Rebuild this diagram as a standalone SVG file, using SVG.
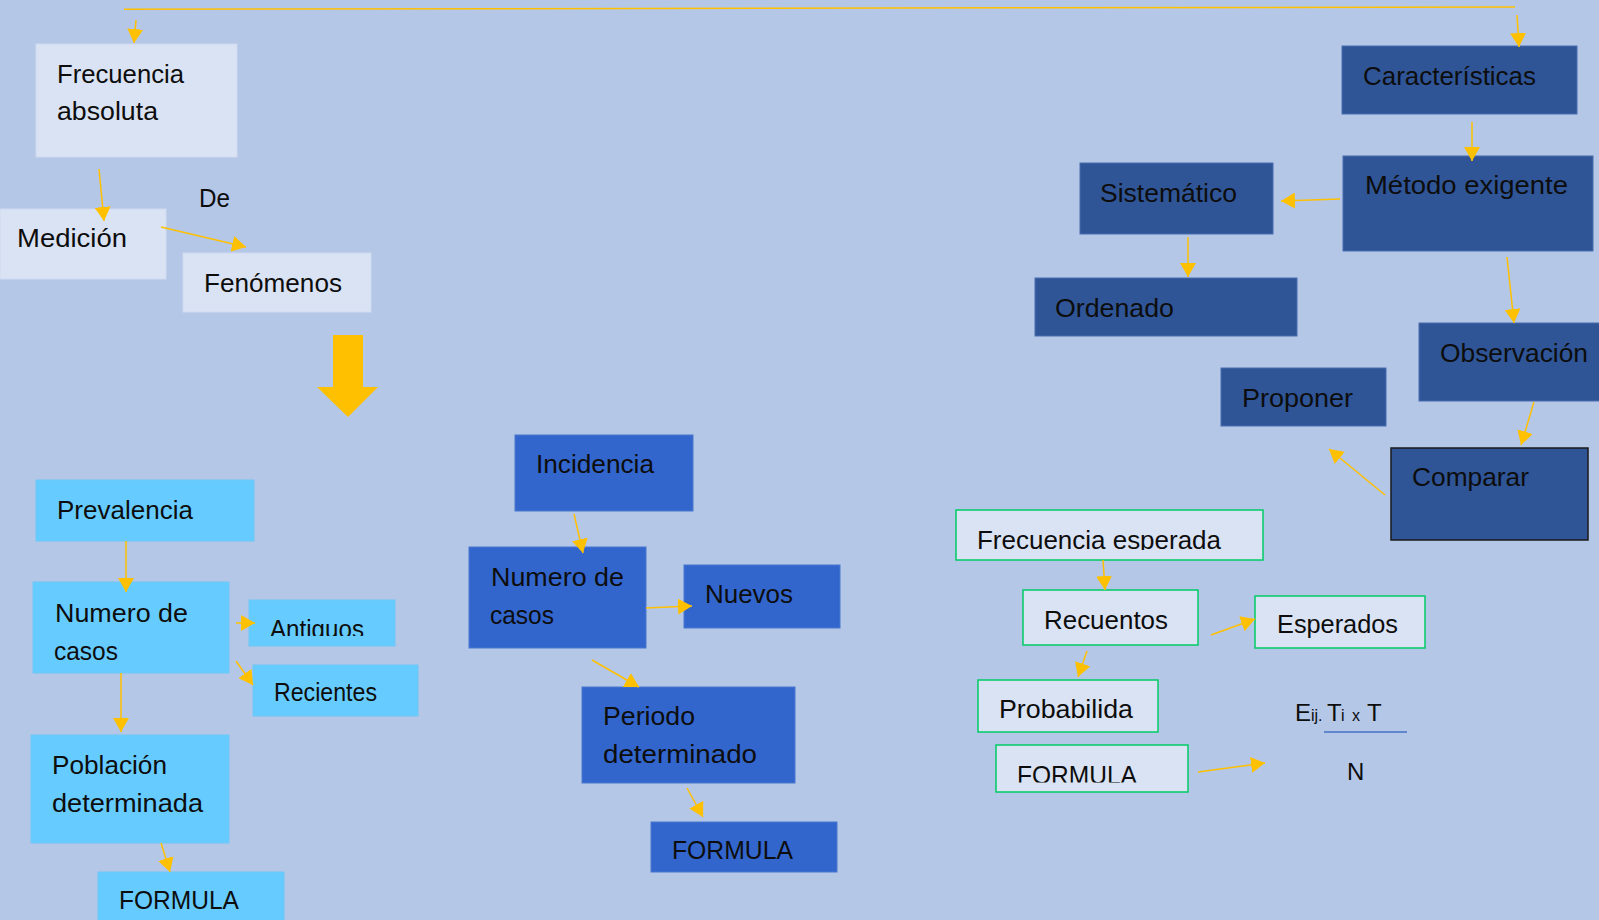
<svg xmlns="http://www.w3.org/2000/svg" width="1599" height="920" viewBox="0 0 1599 920">
<style>
.t{font-family:"Liberation Sans",Arial,sans-serif;font-size:26px;fill:#0d0d0d}
.s{font-family:"Liberation Sans",Arial,sans-serif;font-size:16px;fill:#0d0d0d}
.m{font-family:"Liberation Sans",Arial,sans-serif;font-size:24px;fill:#0d0d0d}
.lt{fill:#dae3f3;stroke:#cfdaef;stroke-width:1}
.cy{fill:#66ccff;stroke:#6fc8f5;stroke-width:1}
.md{fill:#3366cc;stroke:#4a78d0;stroke-width:1}
.dk{fill:#2f5597;stroke:#4a6fae;stroke-width:1}
.gr{fill:#dae3f3;stroke:#00cc66;stroke-width:1.5}
.c{stroke:#ffc000;stroke-width:1.5;fill:none}
</style>
<defs>
<marker id="ah" markerUnits="userSpaceOnUse" markerWidth="15" markerHeight="16" refX="14" refY="8" orient="auto" viewBox="0 0 15 16">
<path d="M0,0 L14,8 L0,16 z" fill="#ffc000"/>
</marker>
<clipPath id="clA"><rect x="240" y="590" width="200" height="46"/></clipPath>
<clipPath id="clF"><rect x="950" y="505" width="320" height="45"/></clipPath>
<clipPath id="clG"><rect x="990" y="740" width="200" height="42.5"/></clipPath>
</defs>
<rect x="0" y="0" width="1599" height="920" fill="#b4c7e7"/>

<g id="big-arrow">
<path d="M333,335 L363,335 L363,387 L378,387 L348,417 L317,387 L333,387 z" fill="#ffc000"/>
</g>

<g id="n-frecuencia-absoluta">
<rect class="lt" x="36" y="44" width="201" height="113"/>
<text class="t" x="57" y="83" textLength="127" lengthAdjust="spacingAndGlyphs">Frecuencia</text>
<text class="t" x="57" y="120" textLength="101" lengthAdjust="spacingAndGlyphs">absoluta</text>
</g>
<g id="n-medicion">
<rect class="lt" x="0" y="209" width="166" height="70"/>
<text class="t" x="17" y="247" textLength="110" lengthAdjust="spacingAndGlyphs">Medición</text>
</g>
<g id="n-de">
<text class="t" x="199" y="207" textLength="31" lengthAdjust="spacingAndGlyphs">De</text>
</g>
<g id="n-fenomenos">
<rect class="lt" x="183" y="253" width="188" height="59"/>
<text class="t" x="204" y="292" textLength="138" lengthAdjust="spacingAndGlyphs">Fenómenos</text>
</g>

<g id="n-prevalencia">
<rect class="cy" x="36" y="480" width="218" height="61"/>
<text class="t" x="57" y="519" textLength="136" lengthAdjust="spacingAndGlyphs">Prevalencia</text>
</g>
<g id="n-numero-casos-1">
<rect class="cy" x="33" y="582" width="196" height="91"/>
<text class="t" x="55" y="622" textLength="133" lengthAdjust="spacingAndGlyphs">Numero de</text>
<text class="t" x="54" y="660" textLength="64" lengthAdjust="spacingAndGlyphs">casos</text>
</g>
<g id="n-antiguos">
<rect class="cy" x="249" y="600" width="146" height="46"/>
<text class="t" x="270" y="638" textLength="94" lengthAdjust="spacingAndGlyphs" clip-path="url(#clA)">Antiguos</text>
</g>
<g id="n-recientes">
<rect class="cy" x="253" y="665" width="165" height="51"/>
<text class="t" x="274" y="701" textLength="103" lengthAdjust="spacingAndGlyphs">Recientes</text>
</g>
<g id="n-poblacion">
<rect class="cy" x="31" y="735" width="198" height="108"/>
<text class="t" x="52" y="774" textLength="115" lengthAdjust="spacingAndGlyphs">Población</text>
<text class="t" x="52" y="812" textLength="151" lengthAdjust="spacingAndGlyphs">determinada</text>
</g>
<g id="n-formula-1">
<rect class="cy" x="98" y="872" width="186" height="50"/>
<text class="t" x="119" y="909" textLength="120" lengthAdjust="spacingAndGlyphs">FORMULA</text>
</g>

<g id="n-incidencia">
<rect class="md" x="515" y="435" width="178" height="76"/>
<text class="t" x="536" y="473" textLength="118" lengthAdjust="spacingAndGlyphs">Incidencia</text>
</g>
<g id="n-numero-casos-2">
<rect class="md" x="469" y="547" width="177" height="101"/>
<text class="t" x="491" y="586" textLength="133" lengthAdjust="spacingAndGlyphs">Numero de</text>
<text class="t" x="490" y="624" textLength="64" lengthAdjust="spacingAndGlyphs">casos</text>
</g>
<g id="n-nuevos">
<rect class="md" x="684" y="565" width="156" height="63"/>
<text class="t" x="705" y="603" textLength="88" lengthAdjust="spacingAndGlyphs">Nuevos</text>
</g>
<g id="n-periodo">
<rect class="md" x="582" y="687" width="213" height="96"/>
<text class="t" x="603" y="725" textLength="92" lengthAdjust="spacingAndGlyphs">Periodo</text>
<text class="t" x="603" y="763" textLength="154" lengthAdjust="spacingAndGlyphs">determinado</text>
</g>
<g id="n-formula-2">
<rect class="md" x="651" y="822" width="186" height="50"/>
<text class="t" x="672" y="859" textLength="121" lengthAdjust="spacingAndGlyphs">FORMULA</text>
</g>

<g id="n-caracteristicas">
<rect class="dk" x="1342" y="46" width="235" height="68"/>
<text class="t" x="1363" y="85" textLength="173" lengthAdjust="spacingAndGlyphs">Características</text>
</g>
<g id="n-metodo">
<rect class="dk" x="1343" y="156" width="250" height="95"/>
<text class="t" x="1365" y="194" textLength="203" lengthAdjust="spacingAndGlyphs">Método exigente</text>
</g>
<g id="n-sistematico">
<rect class="dk" x="1080" y="163" width="193" height="71"/>
<text class="t" x="1100" y="202" textLength="137" lengthAdjust="spacingAndGlyphs">Sistemático</text>
</g>
<g id="n-ordenado">
<rect class="dk" x="1035" y="278" width="262" height="58"/>
<text class="t" x="1055" y="317" textLength="119" lengthAdjust="spacingAndGlyphs">Ordenado</text>
</g>
<g id="n-observacion">
<rect class="dk" x="1419" y="323" width="182" height="78"/>
<text class="t" x="1440" y="362" textLength="148" lengthAdjust="spacingAndGlyphs">Observación</text>
</g>
<g id="n-proponer">
<rect class="dk" x="1221" y="368" width="165" height="58"/>
<text class="t" x="1242" y="407" textLength="111" lengthAdjust="spacingAndGlyphs">Proponer</text>
</g>
<g id="n-comparar">
<rect x="1391" y="448" width="197" height="92" fill="#2f5597" stroke="#1a1a1a" stroke-width="1.5"/>
<text class="t" x="1412" y="486" textLength="117" lengthAdjust="spacingAndGlyphs">Comparar</text>
</g>

<g id="n-frecuencia-esperada">
<rect class="gr" x="956" y="510" width="307" height="50"/>
<text class="t" x="977" y="549" textLength="244" lengthAdjust="spacingAndGlyphs" clip-path="url(#clF)">Frecuencia esperada</text>
</g>
<g id="n-recuentos">
<rect class="gr" x="1023" y="590" width="175" height="55"/>
<text class="t" x="1044" y="629" textLength="124" lengthAdjust="spacingAndGlyphs">Recuentos</text>
</g>
<g id="n-esperados">
<rect class="gr" x="1255" y="596" width="170" height="52"/>
<text class="t" x="1277" y="633" textLength="121" lengthAdjust="spacingAndGlyphs">Esperados</text>
</g>
<g id="n-probabilida">
<rect class="gr" x="978" y="680" width="180" height="52"/>
<text class="t" x="999" y="718" textLength="134" lengthAdjust="spacingAndGlyphs">Probabilida</text>
</g>
<g id="n-formula-3">
<rect class="gr" x="996" y="745" width="192" height="47"/>
<text class="t" x="1017" y="783.5" textLength="120" lengthAdjust="spacingAndGlyphs" clip-path="url(#clG)">FORMULA</text>
</g>
<g id="n-formula-expr">
<text class="m" x="1295" y="721">E</text>
<text class="s" x="1311" y="721">ij.</text>
<text class="m" x="1327" y="721">T</text>
<text class="s" x="1341" y="721">i</text>
<text class="s" x="1352" y="721">x</text>
<text class="m" x="1367" y="721">T</text>
<line x1="1324" y1="732" x2="1407" y2="732" stroke="#4472c4" stroke-width="1.5"/>
<text class="m" x="1347" y="780">N</text>
</g>

<g id="connectors">
<path class="c" d="M124,9.3 L1515,7"/>
<path class="c" d="M136,20 L134,43" marker-end="url(#ah)"/>
<path class="c" d="M1517,15 L1519,47" marker-end="url(#ah)"/>
<path class="c" d="M99,169 L104,221" marker-end="url(#ah)"/>
<path class="c" d="M161,227 L246,247" marker-end="url(#ah)"/>
<path class="c" d="M126,541 L126,592" marker-end="url(#ah)"/>
<path class="c" d="M236,623 L255,623" marker-end="url(#ah)"/>
<path class="c" d="M236,661 L253,685" marker-end="url(#ah)"/>
<path class="c" d="M121,673 L121,732" marker-end="url(#ah)"/>
<path class="c" d="M161,843 L170,872" marker-end="url(#ah)"/>
<path class="c" d="M574,514 L583,553" marker-end="url(#ah)"/>
<path class="c" d="M646,608 L692,606" marker-end="url(#ah)"/>
<path class="c" d="M592,660 L639,687" marker-end="url(#ah)"/>
<path class="c" d="M687,788 L703,817" marker-end="url(#ah)"/>
<path class="c" d="M1472,122 L1472,161" marker-end="url(#ah)"/>
<path class="c" d="M1340,199 L1281,201" marker-end="url(#ah)"/>
<path class="c" d="M1188,237 L1188,277" marker-end="url(#ah)"/>
<path class="c" d="M1507,257 L1514,323" marker-end="url(#ah)"/>
<path class="c" d="M1534,402 L1521,445" marker-end="url(#ah)"/>
<path class="c" d="M1385,495 L1329,449" marker-end="url(#ah)"/>
<path class="c" d="M1103,560 L1105,590" marker-end="url(#ah)"/>
<path class="c" d="M1211,635 L1255,619" marker-end="url(#ah)"/>
<path class="c" d="M1087,651 L1078,677" marker-end="url(#ah)"/>
<path class="c" d="M1198,772 L1265,763" marker-end="url(#ah)"/>
</g>
</svg>
